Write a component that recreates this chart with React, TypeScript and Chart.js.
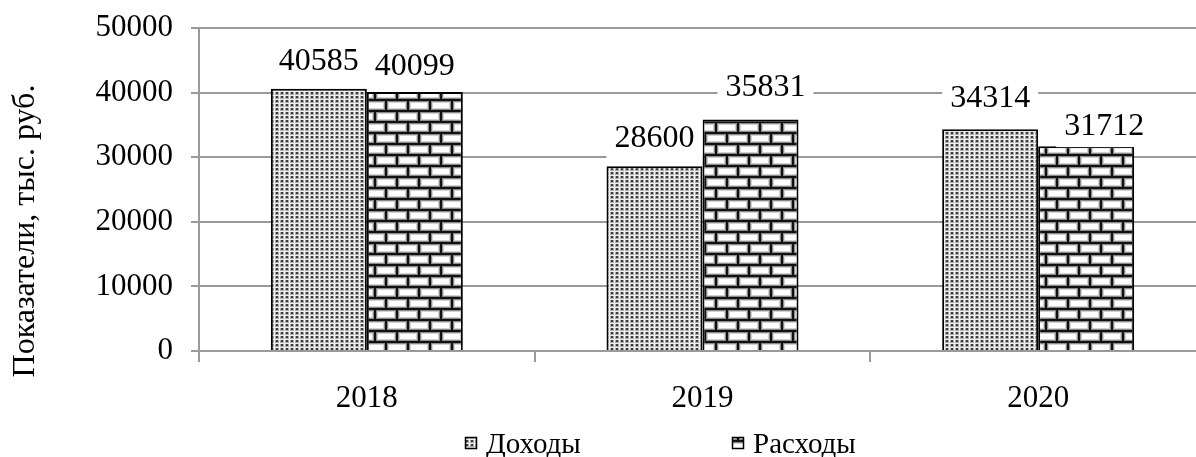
import React, { useEffect, useRef } from "react";
import { Chart, registerables } from "chart.js";

Chart.register(...registerables);

// Chart data
const years = ["2018", "2019", "2020"];
const income = [40585, 28600, 34314];
const expenses = [40099, 35831, 31712];
const yTicks = [0, 10000, 20000, 30000, 40000, 50000];
const seriesNames = ["Доходы", "Расходы"];
const axisTitle = "Показатели, тыс. руб.";

// Value label nudges (dx, dy from the bar top), per series and year
const incomeLabelShift = [[0, -30], [0, -30], [0, -33]];
const expenseLabelShift = [[0, -28], [15, -34], [18, -22]];

const FONT = '"Liberation Serif", "Times New Roman", serif';
const GRID = "#9a9a9a";
// plot frame inside the canvas
const PLOT_TOP = 28;
const PLOT_BOTTOM = 351;

function makeDots(ctx: CanvasRenderingContext2D) {
  const c = document.createElement("canvas");
  c.width = 5;
  c.height = 4;
  const g = c.getContext("2d")!;
  g.fillStyle = "#f0f0f0";
  g.fillRect(0, 0, 5, 4);
  g.fillStyle = "#ababab";
  g.fillRect(0, 0, 4, 3);
  g.fillStyle = "#3c3c3c";
  g.fillRect(1, 0, 2, 2);
  return ctx.createPattern(c, "repeat")!;
}

function makeBricks(ctx: CanvasRenderingContext2D) {
  const w = 22;
  const h = 22;
  const c = document.createElement("canvas");
  c.width = w;
  c.height = h;
  const g = c.getContext("2d")!;
  g.fillStyle = "#ffffff";
  g.fillRect(0, 0, w, h);
  // shading along the mortar
  g.fillStyle = "#d2d2d2";
  g.fillRect(0, 3, w, 1);
  g.fillRect(0, 14, w, 1);
  g.fillRect(0, 9, w, 1);
  g.fillRect(0, 20, w, 1);
  g.fillRect(3, 0, 1, 11);
  g.fillRect(14, 11, 1, 11);
  g.fillRect(20, 0, 1, 11);
  g.fillRect(9, 11, 1, 11);
  g.fillStyle = "#8a8a8a";
  g.fillRect(0, 2, w, 1);
  g.fillRect(0, 13, w, 1);
  g.fillRect(0, 10, w, 1);
  g.fillRect(0, 21, w, 1);
  g.fillRect(2, 0, 1, 11);
  g.fillRect(13, 11, 1, 11);
  g.fillRect(21, 0, 1, 11);
  g.fillRect(10, 11, 1, 11);
  // mortar
  g.fillStyle = "#111111";
  g.fillRect(0, 0, w, 2);
  g.fillRect(0, 11, w, 2);
  g.fillRect(0, 0, 2, 11);
  g.fillRect(11, 11, 2, 11);
  return ctx.createPattern(c, "repeat")!;
}

const valueLabels = {
  id: "valueLabels",
  afterDatasetsDraw(chart: any) {
    const ctx = chart.ctx as CanvasRenderingContext2D;
    const shifts = [incomeLabelShift, expenseLabelShift];
    const fs = 32;
    const items: { x: number; y: number; text: string }[] = [];
    chart.data.datasets.forEach((ds: any, i: number) => {
      const meta = chart.getDatasetMeta(i);
      meta.data.forEach((bar: any, j: number) => {
        const [dx, dy] = shifts[i][j];
        items.push({ x: bar.x + dx, y: bar.y + dy, text: String(ds.data[j]) });
      });
    });
    ctx.save();
    ctx.fillStyle = "#ffffff";
    items.forEach((it) => ctx.fillRect(it.x - 48, it.y - 23, 96, 46));
    ctx.fillStyle = "#000000";
    ctx.font = `${fs}px ${FONT}`;
    ctx.textAlign = "center";
    ctx.textBaseline = "alphabetic";
    items.forEach((it) => ctx.fillText(it.text, it.x, it.y + fs * 0.34));
    ctx.restore();
  },
};

const extras = {
  id: "extras",
  afterDraw(chart: any) {
    const ctx = chart.ctx as CanvasRenderingContext2D;
    ctx.save();
    // y axis title
    ctx.translate(34, 231);
    ctx.rotate(-Math.PI / 2);
    ctx.font = `32px ${FONT}`;
    ctx.fillStyle = "#000";
    ctx.textAlign = "center";
    ctx.textBaseline = "alphabetic";
    ctx.fillText(axisTitle, 0, 0);
    ctx.restore();

    // legend
    ctx.save();
    ctx.font = `29px ${FONT}`;
    ctx.textBaseline = "alphabetic";
    ctx.textAlign = "left";
    const startX = 465;
    const step = 267;
    const boxTop = 437;
    chart.data.datasets.forEach((ds: any, i: number) => {
      const x = startX + i * step;
      ctx.fillStyle = ds.backgroundColor;
      ctx.fillRect(x, boxTop, 12, 12);
      ctx.strokeStyle = "#000";
      ctx.lineWidth = 1.5;
      ctx.strokeRect(x + 0.5, boxTop + 0.5, 11, 11);
      ctx.fillStyle = "#000";
      ctx.fillText(seriesNames[i], x + 21, 452.5);
    });
    ctx.restore();
  },
};

export default function App() {
  const ref = useRef<HTMLCanvasElement | null>(null);

  useEffect(() => {
    const canvas = ref.current!;
    const ctx = canvas.getContext("2d")!;
    const dots = makeDots(ctx);
    const bricks = makeBricks(ctx);
    let xHeight = 106;
    let padTop = PLOT_TOP;

    const chart = new Chart(canvas, {
      type: "bar",
      data: {
        labels: years,
        datasets: [
          {
            label: seriesNames[0],
            data: income,
            backgroundColor: dots as any,
            borderColor: "#000",
            borderWidth: 2,
            categoryPercentage: 0.572,
            barPercentage: 1,
          },
          {
            label: seriesNames[1],
            data: expenses,
            backgroundColor: bricks as any,
            borderColor: "#000",
            borderWidth: 2,
            categoryPercentage: 0.572,
            barPercentage: 1,
          },
        ],
      },
      options: {
        responsive: false,
        animation: false,
        events: [],
        layout: { padding: { top: padTop, right: 9, bottom: 0, left: 0 } },
        plugins: {
          legend: { display: false },
          tooltip: { enabled: false },
        },
        scales: {
          x: {
            grid: {
              display: true,
              drawOnChartArea: false,
              drawTicks: true,
              tickLength: 11,
              color: GRID,
              lineWidth: 2,
              offset: true,
            },
            border: { display: true, color: GRID, width: 2 },
            ticks: {
              color: "#000",
              font: { family: FONT, size: 31 },
              padding: 18,
              maxRotation: 0,
            },
            afterFit: (s: any) => {
              s.height = xHeight;
            },
          },
          y: {
            min: 0,
            max: 50000,
            afterBuildTicks: (s: any) => {
              s.ticks = yTicks.map((v) => ({ value: v }));
            },
            grid: { color: GRID, lineWidth: 2, tickLength: 8 },
            border: { display: true, color: GRID, width: 2 },
            ticks: {
              color: "#000",
              font: { family: FONT, size: 31, lineHeight: 0.4 },
              padding: 18,
              callback: (v: any) => String(v),
            },
            afterFit: (s: any) => {
              s.width = 199;
            },
          },
        },
      },
      plugins: [valueLabels, extras],
    });

    // settle the plot frame on the intended top and bottom edges
    for (let k = 0; k < 3; k++) {
      const area = chart.chartArea;
      const dTop = PLOT_TOP - area.top;
      const dBottom = area.bottom - PLOT_BOTTOM;
      if (Math.abs(dTop) < 0.5 && Math.abs(dBottom) < 0.5) break;
      padTop += dTop;
      xHeight += dBottom;
      (chart.config.options as any).layout.padding = {
        top: padTop,
        right: 9,
        bottom: 0,
        left: 0,
      };
      chart.update();
    }

    return () => chart.destroy();
  }, []);

  return (
    <div
      style={{
        position: "fixed",
        left: 0,
        top: 0,
        width: "100vw",
        height: "100vh",
        overflow: "hidden",
        background: "#fff",
      }}
    >
      <canvas ref={ref} width={1215} height={457} style={{ display: "block" }} />
    </div>
  );
}
